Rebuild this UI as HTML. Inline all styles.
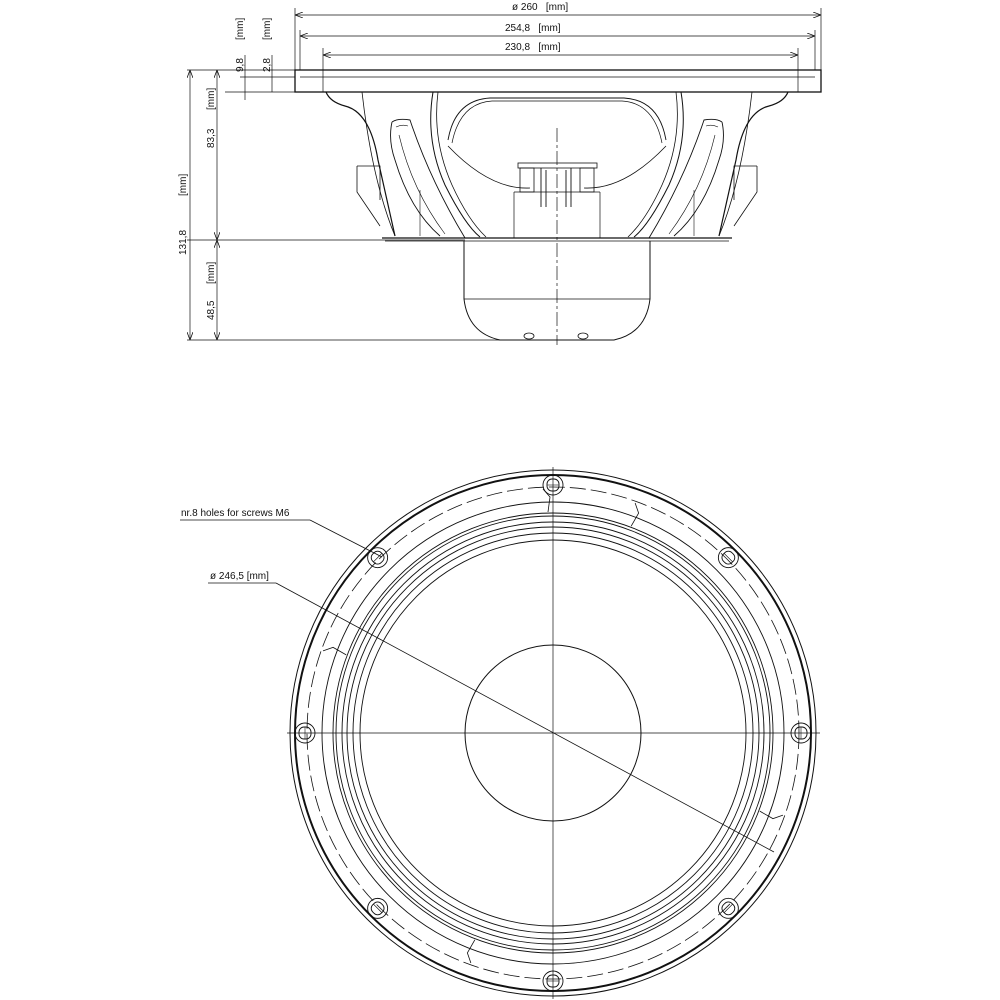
<!DOCTYPE html>
<html><head><meta charset="utf-8"><style>
html,body{margin:0;padding:0;background:#fff;}
svg{display:block;}
text{font-family:"Liberation Sans",sans-serif;font-size:10px;fill:#111;}
</style></head><body>
<svg width="1000" height="1000" viewBox="0 0 1000 1000" xmlns="http://www.w3.org/2000/svg">
<defs>
<marker id="a" markerWidth="8" markerHeight="6" refX="8" refY="3" orient="auto-start-reverse" markerUnits="userSpaceOnUse"><path d="M0,0 L8,3 L0,6" fill="none" stroke="#111" stroke-width="0.8"/></marker>
</defs>
<g stroke="#111" fill="none" stroke-width="1">
<!-- top dimensions -->
<line x1="295" y1="8" x2="295" y2="70" stroke-width="0.7"/>
<line x1="821" y1="8" x2="821" y2="70" stroke-width="0.7"/>
<line x1="300" y1="30" x2="300" y2="70" stroke-width="0.7"/>
<line x1="815" y1="30" x2="815" y2="70" stroke-width="0.7"/>
<line x1="323" y1="48" x2="323" y2="92" stroke-width="0.7"/>
<line x1="798" y1="48" x2="798" y2="92" stroke-width="0.7"/>
<line x1="295" y1="15" x2="821" y2="15" stroke-width="0.7" marker-start="url(#a)" marker-end="url(#a)"/>
<line x1="300" y1="36" x2="815" y2="36" stroke-width="0.7" marker-start="url(#a)" marker-end="url(#a)"/>
<line x1="323" y1="55" x2="798" y2="55" stroke-width="0.7" marker-start="url(#a)" marker-end="url(#a)"/>
<!-- left dims -->
<line x1="187" y1="70" x2="295" y2="70" stroke-width="0.7"/>
<line x1="240" y1="77" x2="295" y2="77" stroke-width="0.7"/>
<line x1="225" y1="92" x2="295" y2="92" stroke-width="0.7"/>
<line x1="187" y1="240" x2="465" y2="240" stroke-width="0.7"/>
<line x1="187" y1="340" x2="500" y2="340" stroke-width="0.7"/>
<line x1="245" y1="55" x2="245" y2="100" stroke-width="0.7"/>
<line x1="272" y1="55" x2="272" y2="92" stroke-width="0.7"/>
<line x1="190" y1="70" x2="190" y2="340" stroke-width="0.7" marker-start="url(#a)" marker-end="url(#a)"/>
<line x1="217" y1="70" x2="217" y2="240" stroke-width="0.7" marker-start="url(#a)" marker-end="url(#a)"/>
<line x1="217" y1="240" x2="217" y2="340" stroke-width="0.7" marker-start="url(#a)" marker-end="url(#a)"/>
<!-- flange -->
<rect x="295" y="70" width="526" height="22" stroke-width="1.3"/>
<line x1="300" y1="77" x2="815" y2="77" stroke-width="0.7"/>
<line x1="557" y1="128" x2="557" y2="345" stroke-width="0.7" stroke-dasharray="14,3,3,3"/>
<!-- magnet -->
<path d="M464,241 L464,299 Q468,333 500,340 L614,340 Q646,333 650,299 L650,241" stroke-width="1"/>
<line x1="464" y1="299" x2="650" y2="299" stroke-width="0.8"/>
<ellipse cx="529" cy="336" rx="5" ry="3" stroke-width="0.8"/>
<ellipse cx="583" cy="336" rx="5" ry="3" stroke-width="0.8"/>
<line x1="382" y1="238" x2="732" y2="238" stroke-width="1.2"/>
<line x1="385" y1="241" x2="729" y2="241" stroke-width="0.8"/>
<!-- terminals -->
<rect x="518" y="163" width="79" height="5" stroke-width="0.8"/>
<rect x="520" y="168" width="14" height="24" stroke-width="0.8"/>
<rect x="580" y="168" width="14" height="24" stroke-width="0.8"/>
<path d="M541,168 L541,207 M546,170 L546,207 M566,170 L566,207 M571,168 L571,207" stroke-width="0.9"/>
<line x1="514" y1="192" x2="514" y2="238" stroke-width="0.7"/>
<line x1="600" y1="192" x2="600" y2="238" stroke-width="0.7"/>
<line x1="514" y1="192" x2="600" y2="192" stroke-width="0.7"/>
<!-- basket halves -->
<g id="half">
<path d="M326,92 Q330,102 345,106 Q370,112 378,160 L395,236" stroke-width="1.2"/>
<path d="M362,92 Q372,180 395,236" stroke-width="0.8"/>
<path d="M357,166 L380,166 L380,200 M357,166 L357,192 L380,226" stroke-width="0.8"/>
<path d="M433,92 Q425,140 445,185 Q465,225 480,237" stroke-width="1"/>
<path d="M438,92 Q432,140 452,185 Q468,220 486,237" stroke-width="0.8"/>
<path d="M448,140 Q455,100 490,98 L557,98" stroke-width="0.9"/>
<path d="M452,143 Q460,103 492,101 L557,101" stroke-width="0.7"/>
<path d="M448,146 Q490,190 530,188" stroke-width="0.8"/>
<path d="M392,122 Q398,118 410,120 Q430,180 465,238 M392,122 Q388,140 395,160 Q410,210 440,236" stroke-width="0.9"/>
<path d="M396,127 Q402,124 408,126 M399,135 Q412,190 445,234" stroke-width="0.6"/>
<line x1="420" y1="190" x2="420" y2="236" stroke-width="0.6"/>
</g>
<use href="#half" transform="translate(1114,0) scale(-1,1)"/>
<!-- front view -->
<line x1="553" y1="467" x2="553" y2="999" stroke-width="0.7"/>
<line x1="287" y1="733" x2="820" y2="733" stroke-width="0.7"/>
<circle cx="553" cy="733" r="263" stroke-width="1"/>
<circle cx="553" cy="733" r="258" stroke-width="2"/>
<circle cx="553" cy="733" r="246" stroke-width="0.8" stroke-dasharray="16,5"/>
<circle cx="553" cy="733" r="231" stroke-width="0.9"/>
<circle cx="553" cy="733" r="220" stroke-width="0.9"/>
<circle cx="553" cy="733" r="217" stroke-width="0.9"/>
<circle cx="553" cy="733" r="211" stroke-width="0.9"/>
<circle cx="553" cy="733" r="206" stroke-width="0.9"/>
<circle cx="553" cy="733" r="200" stroke-width="0.9"/>
<circle cx="553" cy="733" r="193" stroke-width="0.9"/>
<circle cx="553" cy="733" r="88" stroke-width="1"/>
<g id="hole">
<circle cx="553" cy="485" r="10" stroke-width="0.9"/>
<rect x="547" y="479" width="12" height="12" rx="5" stroke-width="0.9"/>
<line x1="547" y1="485" x2="559" y2="485" stroke-width="0.6"/>
</g>
<use href="#hole" transform="rotate(45 553 733)"/>
<use href="#hole" transform="rotate(90 553 733)"/>
<use href="#hole" transform="rotate(135 553 733)"/>
<use href="#hole" transform="rotate(180 553 733)"/>
<use href="#hole" transform="rotate(225 553 733)"/>
<use href="#hole" transform="rotate(270 553 733)"/>
<use href="#hole" transform="rotate(315 553 733)"/>
<g id="notch"><path d="M543,489 L550,497 L548,512" stroke-width="0.8"/></g>
<use href="#notch" transform="rotate(22 553 733)"/>
<use href="#notch" transform="rotate(-68 553 733)"/>
<use href="#notch" transform="rotate(112 553 733)"/>
<use href="#notch" transform="rotate(202 553 733)"/>
<!-- leaders -->
<line x1="180" y1="520" x2="310" y2="520" stroke-width="0.8"/>
<line x1="310" y1="520" x2="382" y2="557" stroke-width="0.8"/>
<line x1="208" y1="583" x2="276" y2="583" stroke-width="0.8"/>
<line x1="276" y1="583" x2="774" y2="852" stroke-width="0.8"/>
</g>
<text x="512" y="10">ø 260&#160;&#160;&#160;[mm]</text>
<text x="505" y="31">254,8&#160;&#160;&#160;[mm]</text>
<text x="505" y="50">230,8&#160;&#160;&#160;[mm]</text>
<text transform="translate(243,72) rotate(-90)">9,8</text>
<text transform="translate(243,40) rotate(-90)">[mm]</text>
<text transform="translate(270,72) rotate(-90)">2,8</text>
<text transform="translate(270,40) rotate(-90)">[mm]</text>
<text transform="translate(214,148) rotate(-90)">83,3</text>
<text transform="translate(214,110) rotate(-90)">[mm]</text>
<text transform="translate(186,255) rotate(-90)">131,8</text>
<text transform="translate(186,196) rotate(-90)">[mm]</text>
<text transform="translate(214,320) rotate(-90)">48,5</text>
<text transform="translate(214,284) rotate(-90)">[mm]</text>
<text x="181" y="516">nr.8 holes for screws M6</text>
<text x="210" y="579">ø 246,5 [mm]</text>
</svg>
</body></html>
